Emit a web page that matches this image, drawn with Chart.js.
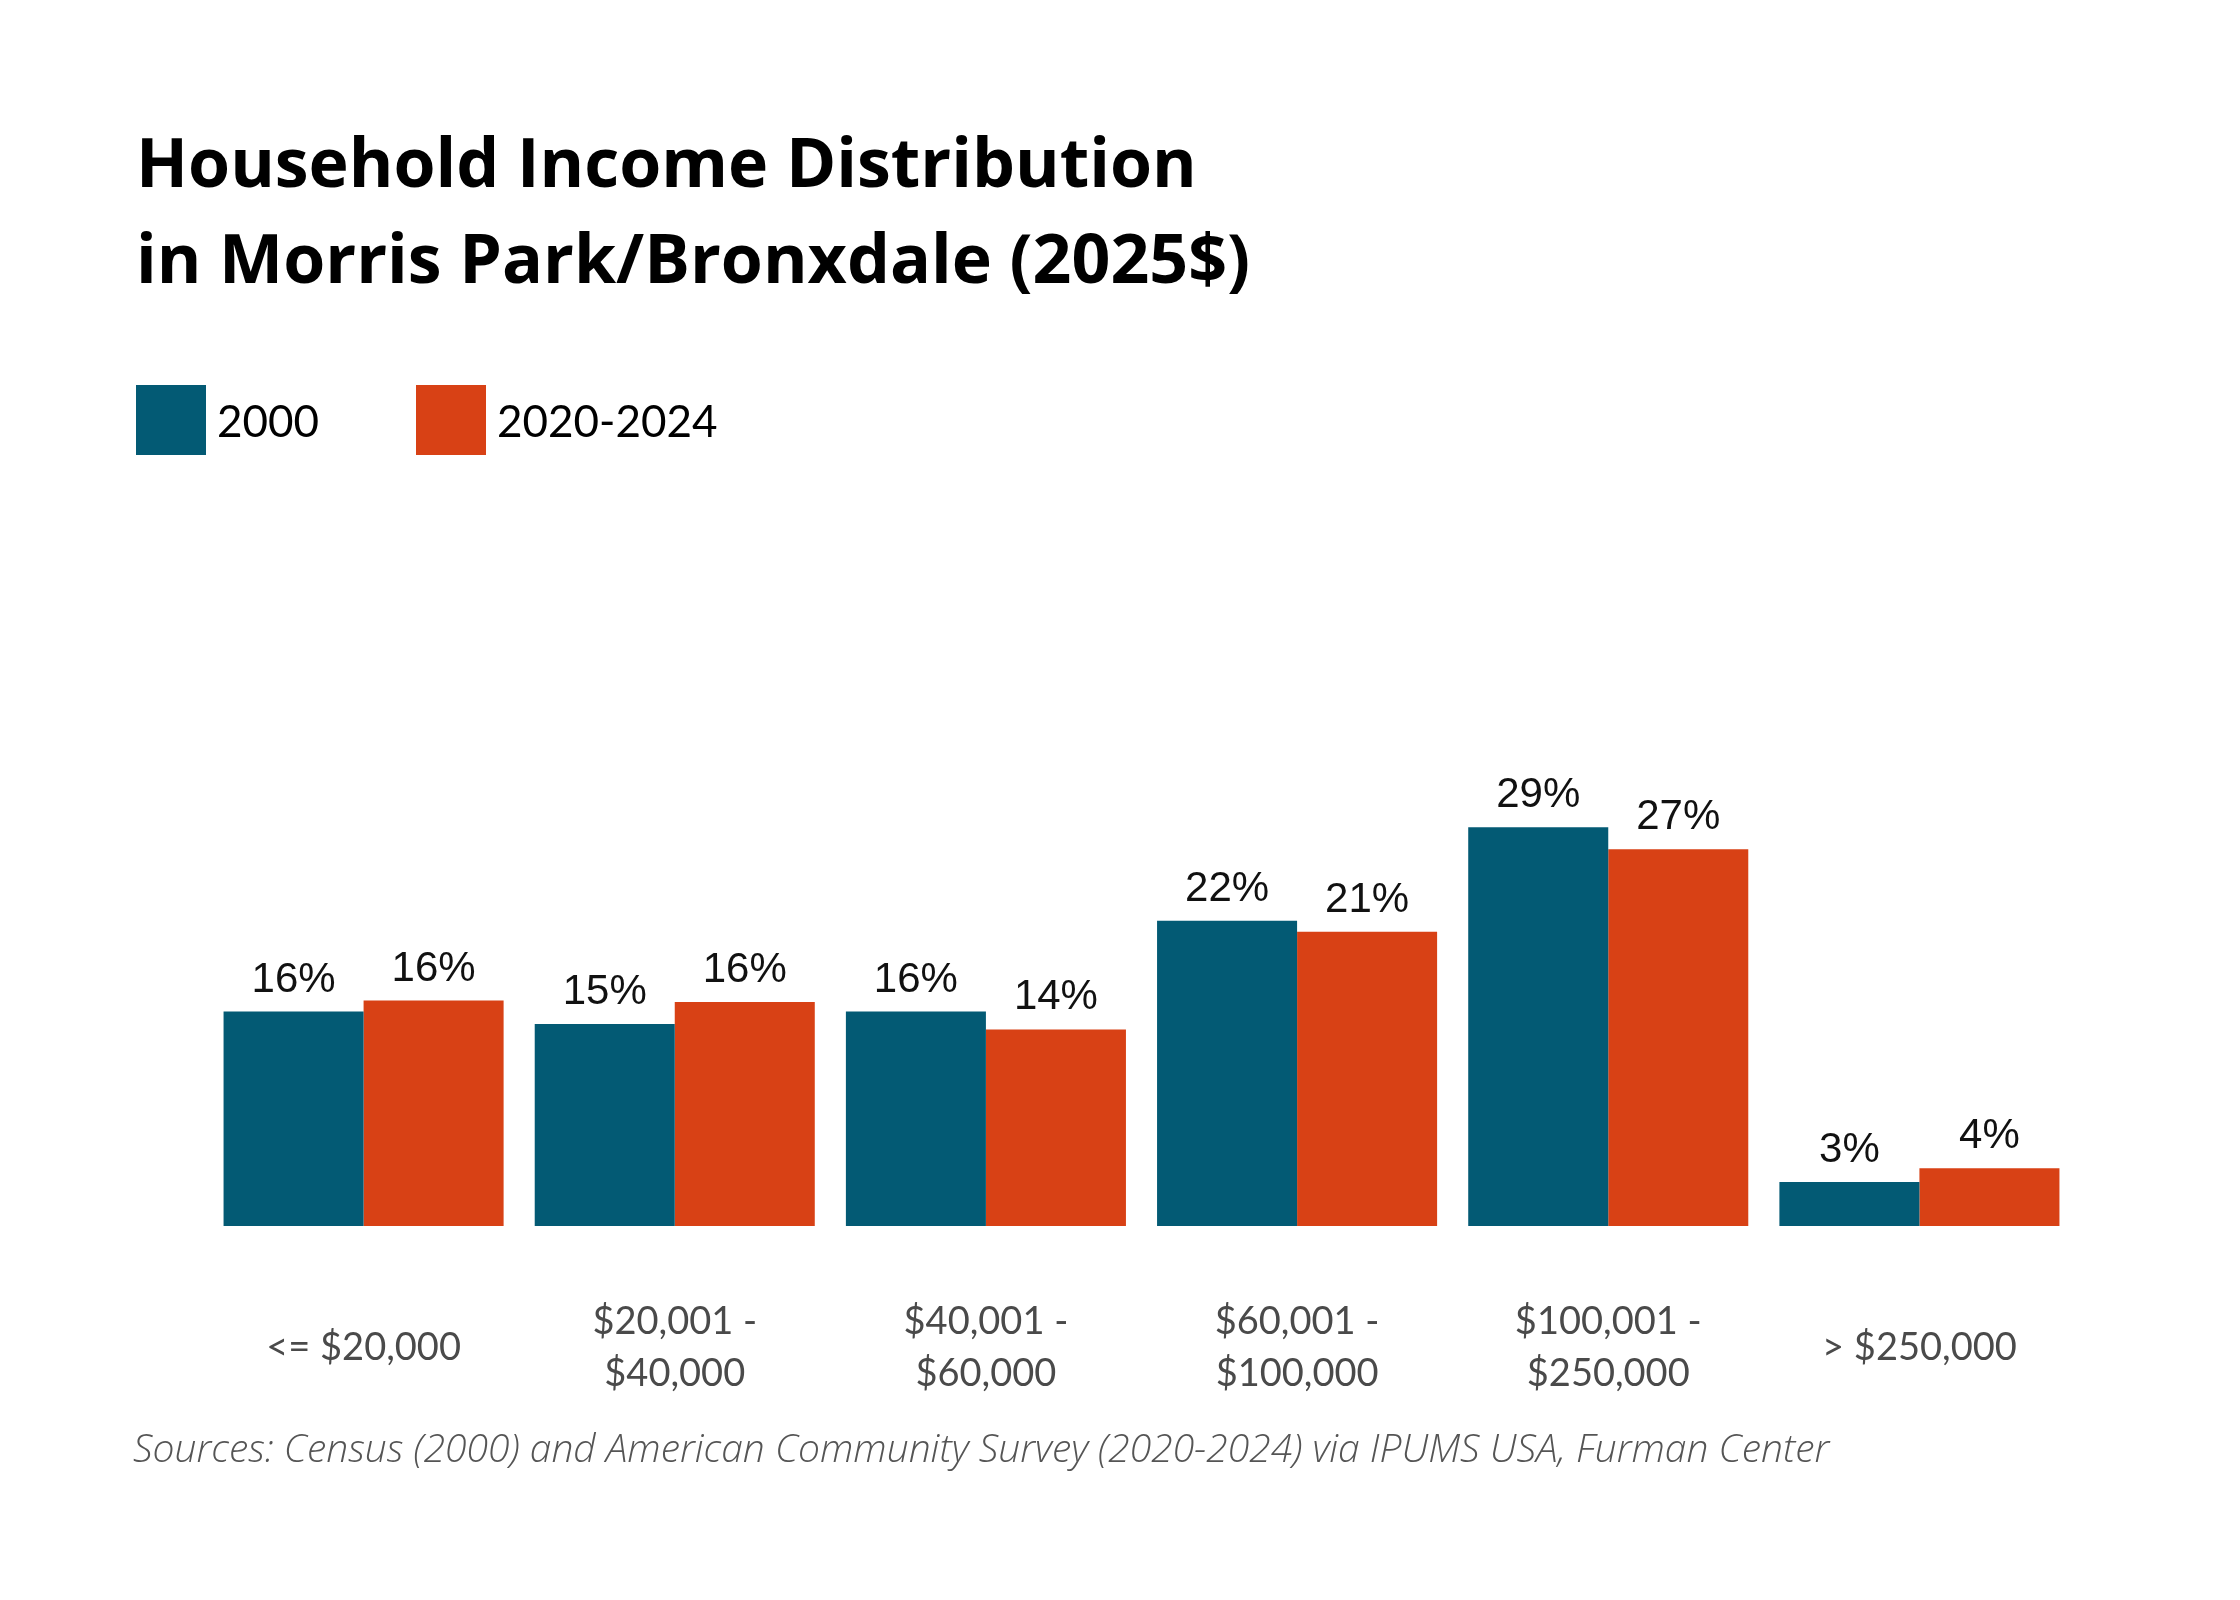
<!doctype html>
<html>
<head>
<meta charset="utf-8">
<script src="https://cdn.jsdelivr.net/npm/chart.js@4"></script>
<style>
body { margin: 0; background: #fff; }
#page { position: relative; width: 2240px; height: 1600px; overflow: hidden; }
#title { position: absolute; left: 136px; top: 113px; font-family: "Open Sans", sans-serif; font-weight: 700; font-size: 68px; line-height: 96px; color: #000; }
#legend { position: absolute; left: 136px; top: 385px; height: 70px; font-family: Lato, sans-serif; font-size: 44px; color: #000; }
.item { position: absolute; top: 0; height: 70px; white-space: nowrap; }
.box { position: absolute; left: 0; top: 0; width: 70px; height: 70px; }
.lbl { position: absolute; left: 81px; top: 0; line-height: 70px; }
#source { position: absolute; left: 133px; top: 1427px; font-family: "Open Sans", sans-serif; font-style: italic; font-weight: 300; font-size: 39px; line-height: 40px; color: #555; }
#wrap { position: absolute; left: 0; top: 0; width: 2240px; height: 1600px; }
</style>
</head>
<body>
<div id="page">
  <div id="wrap"><canvas id="chart"></canvas></div>
  <div id="title">Household Income Distribution<br>in Morris Park/Bronxdale (2025$)</div>
  <div id="legend"></div>
  <div id="source">Sources: Census (2000) and American Community Survey (2020-2024) via IPUMS USA, Furman Center</div>
</div>
<script>
// income brackets (x axis)
const categories = [
  '<= $20,000',
  ['$20,001 -', '$40,000'],
  ['$40,001 -', '$60,000'],
  ['$60,001 -', '$100,000'],
  ['$100,001 -', '$250,000'],
  '> $250,000'
];
const seriesNames = ['2000', '2020-2024'];
// share of households, percent
const share2000 = [15.6, 14.7, 15.6, 22.2, 29.0, 3.2];
const share2024 = [16.4, 16.3, 14.3, 21.4, 27.4, 4.2];

const colors = ['#035a74', '#d84115'];

// legend in html
const legendEl = document.getElementById('legend');
const legendX = [0, 280];
seriesNames.forEach(function(name, i) {
  const it = document.createElement('div');
  it.className = 'item';
  it.style.left = legendX[i] + 'px';
  it.innerHTML = '<div class="box" style="background:' + colors[i] + '"></div><div class="lbl">' + name + '</div>';
  legendEl.appendChild(it);
});

// value labels over each bar
const valueLabels = {
  id: 'valueLabels',
  afterDatasetsDraw(chart) {
    const ctx = chart.ctx;
    ctx.save();
    ctx.font = '42px "Liberation Sans", Arial, sans-serif';
    ctx.fillStyle = '#111';
    ctx.textAlign = 'center';
    ctx.textBaseline = 'alphabetic';
    chart.data.datasets.forEach(function(ds, i) {
      chart.getDatasetMeta(i).data.forEach(function(bar, j) {
        ctx.fillText(Math.round(ds.data[j]) + '%', bar.x, bar.y - 20);
      });
    });
    ctx.restore();
  }
};

const ctx = document.getElementById('chart').getContext('2d');
new Chart(ctx, {
  type: 'bar',
  data: {
    labels: categories,
    datasets: [
      { label: seriesNames[0], data: share2000, backgroundColor: colors[0] },
      { label: seriesNames[1], data: share2024, backgroundColor: colors[1] }
    ]
  },
  options: {
    responsive: true,
    maintainAspectRatio: false,
    devicePixelRatio: 1,
    animation: false,
    layout: { padding: { left: 208, right: 165, top: 676, bottom: 78 } },
    datasets: { bar: { categoryPercentage: 0.9, barPercentage: 1.0, borderWidth: 0 } },
    plugins: {
      legend: { display: false },
      tooltip: { enabled: false }
    },
    scales: {
      x: {
        grid: { display: false, drawTicks: false },
        border: { display: false },
        ticks: {
          color: '#4a4a4a',
          font: { family: 'Lato', size: 38, lineHeight: '52px' },
          padding: 96,
          crossAlign: 'center',
          maxRotation: 0,
          autoSkip: false
        }
      },
      y: { display: false, min: 0, max: 40 }
    }
  },
  plugins: [valueLabels]
});
</script>
</body>
</html>
